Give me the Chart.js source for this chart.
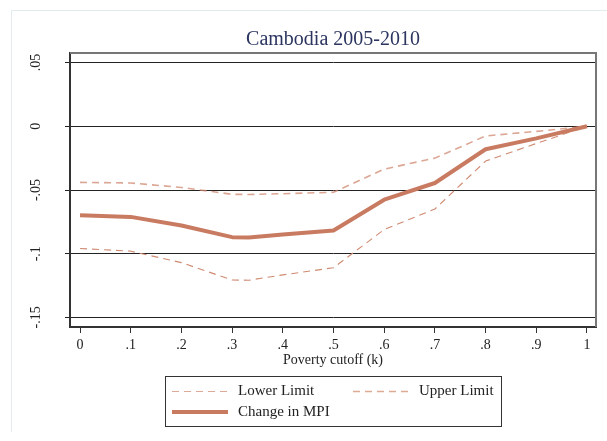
<!DOCTYPE html>
<html>
<head>
<meta charset="utf-8">
<script src="https://cdn.jsdelivr.net/npm/chart.js@4"></script>
<style>
  html, body { margin: 0; padding: 0; background: #fff; }
  #wrap { width: 607px; height: 441px; }
</style>
</head>
<body>
<div id="wrap"><canvas id="chartMpi" width="607" height="441"></canvas></div>
<script>
// poverty cutoffs k and the estimated change in MPI with its bounds
const cutoffs = [0, 0.1, 0.2, 0.3, 0.333, 0.4, 0.5, 0.6, 0.7, 0.8, 0.9, 1];
const changeMpi = [-0.0698, -0.0711, -0.0779, -0.0870, -0.0872, -0.0849, -0.0818, -0.0576, -0.0445, -0.0180, -0.0095, 0];
const lowerLimit = [-0.0959, -0.0980, -0.1070, -0.1206, -0.1208, -0.1166, -0.1110, -0.0810, -0.0649, -0.0273, -0.0135, 0];
const upperLimit = [-0.0440, -0.0445, -0.0480, -0.0534, -0.0535, -0.0529, -0.0518, -0.0336, -0.0250, -0.0076, -0.0040, 0];

const xTicks = [0, 0.1, 0.2, 0.3, 0.4, 0.5, 0.6, 0.7, 0.8, 0.9, 1];
const xTickLabels = ["0", ".1", ".2", ".3", ".4", ".5", ".6", ".7", ".8", ".9", "1"];
const yTicks = [-0.15, -0.1, -0.05, 0, 0.05];
const yTickLabels = ["-.15", "-.1", "-.05", "0", ".05"];

const SERIF = "'Liberation Serif', 'DejaVu Serif', serif";

const toPoints = (vals) => cutoffs.map((k, i) => ({ x: k, y: vals[i] }));

// titles, rotated y labels, frame and the boxed legend
const decorations = {
  id: "decorations",
  beforeDraw(chart) {
    const { ctx } = chart;
    ctx.save();
    ctx.strokeStyle = "#e3ecec";
    ctx.lineWidth = 1;
    ctx.beginPath();
    ctx.moveTo(11.5, 432);
    ctx.lineTo(11.5, 10.5);
    ctx.lineTo(607, 10.5);
    ctx.stroke();
    ctx.restore();
  },
  afterDraw(chart) {
    const { ctx, chartArea: a } = chart;
    const xs = chart.scales.x;
    const ys = chart.scales.y;
    ctx.save();

    // top and right edges of the plot frame
    ctx.strokeStyle = "#777";
    ctx.lineWidth = 2;
    ctx.beginPath();
    ctx.moveTo(a.left, a.top);
    ctx.lineTo(a.right, a.top);
    ctx.lineTo(a.right, a.bottom);
    ctx.stroke();

    ctx.fillStyle = "#2b3560";
    ctx.font = "20px " + SERIF;
    ctx.textAlign = "center";
    ctx.textBaseline = "middle";
    ctx.fillText("Cambodia 2005-2010", (a.left + a.right) / 2, 40);

    ctx.fillStyle = "#222";
    ctx.font = "14px " + SERIF;
    xTicks.forEach((v, i) => {
      ctx.fillText(xTickLabels[i], xs.getPixelForValue(v), 345);
    });
    ctx.fillText("Poverty cutoff (k)", (a.left + a.right) / 2, 360);

    yTicks.forEach((v, i) => {
      ctx.save();
      ctx.translate(36, ys.getPixelForValue(v));
      ctx.rotate(-Math.PI / 2);
      ctx.fillText(yTickLabels[i], 0, 0);
      ctx.restore();
    });

    // legend box
    const box = { x: 165.5, y: 376.5, w: 336, h: 50 };
    ctx.strokeStyle = "#333";
    ctx.lineWidth = 1;
    ctx.strokeRect(box.x, box.y, box.w, box.h);
    const slots = [
      { x: 172, y: 391.5 },
      { x: 353, y: 391.5 },
      { x: 172, y: 412 },
    ];
    const ordered = [1, 2, 0];
    ctx.font = "15px " + SERIF;
    ctx.textAlign = "left";
    ordered.forEach((di, i) => {
      const ds = chart.data.datasets[di];
      const s = slots[i];
      ctx.save();
      ctx.strokeStyle = ds.legendColor || ds.borderColor;
      ctx.lineWidth = ds.borderWidth;
      ctx.setLineDash(ds.borderDash || []);
      ctx.beginPath();
      ctx.moveTo(s.x, s.y);
      ctx.lineTo(s.x + 56, s.y);
      ctx.stroke();
      ctx.restore();
      ctx.fillStyle = "#222";
      ctx.fillText(ds.label, s.x + 66, s.y);
    });

    ctx.restore();
  },
};

new Chart(document.getElementById("chartMpi"), {
  type: "line",
  data: {
    datasets: [
      {
        label: "Change in MPI",
        data: toPoints(changeMpi),
        borderColor: "#c97b62",
        borderWidth: 4,
        order: 0,
      },
      {
        label: "Lower Limit",
        data: toPoints(lowerLimit),
        borderColor: "#cf8a72",
        legendColor: "#ddaa98",
        borderWidth: 1.1,
        borderDash: [7, 5],
        order: 1,
      },
      {
        label: "Upper Limit",
        data: toPoints(upperLimit),
        borderColor: "rgba(208,136,112,0.75)",
        legendColor: "#ddaa98",
        borderWidth: 1.6,
        borderDash: [7, 5],
        order: 1,
      },
    ],
  },
  plugins: [decorations],
  options: {
    responsive: false,
    animation: false,
    devicePixelRatio: 1,
    layout: { padding: { left: 70, right: 11, top: 53, bottom: 114 } },
    elements: {
      point: { radius: 0 },
      line: { tension: 0, borderJoinStyle: "round", borderCapStyle: "butt" },
    },
    plugins: {
      legend: { display: false },
      title: { display: false },
      tooltip: { enabled: false },
    },
    scales: {
      x: {
        type: "linear",
        min: -0.0198,
        max: 1.0178,
        ticks: { display: false },
        grid: { drawOnChartArea: false, drawTicks: true, tickLength: 6, color: "#333", lineWidth: 1 },
        border: { display: true, color: "#333", width: 2 },
        afterBuildTicks: (scale) => { scale.ticks = xTicks.map((value) => ({ value })); },
        afterFit: (scale) => { scale.height = 0; },
      },
      y: {
        type: "linear",
        min: -0.1575,
        max: 0.0575,
        ticks: { display: false },
        grid: { drawOnChartArea: true, drawTicks: true, tickLength: 5, color: "#222", lineWidth: 1 },
        border: { display: true, color: "#333", width: 2 },
        afterBuildTicks: (scale) => { scale.ticks = yTicks.map((value) => ({ value })); },
        afterFit: (scale) => { scale.width = 0; },
      },
    },
  },
});
</script>
</body>
</html>
